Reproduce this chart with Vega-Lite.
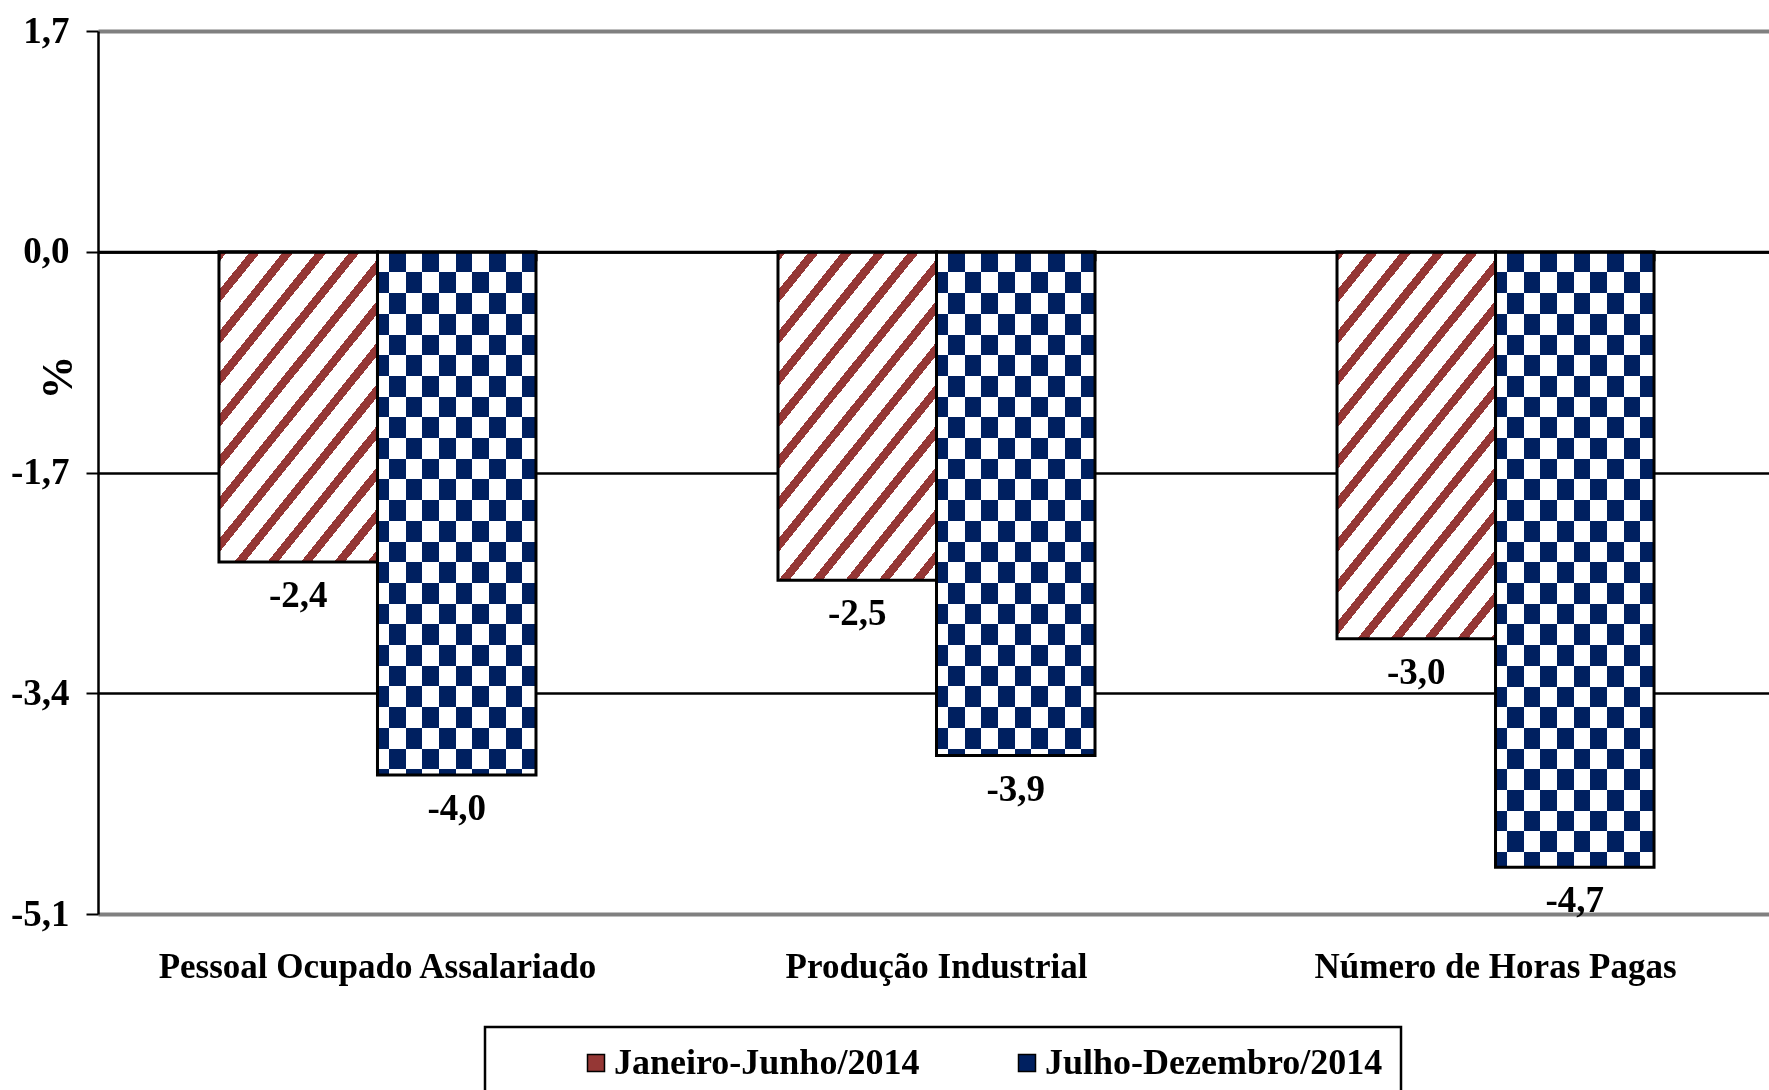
{
  "$schema": "https://vega.github.io/schema/vega-lite/v6.json",
  "autosize": {"type": "none"},
  "padding": {"left": 98, "top": 31, "right": 0, "bottom": 176},
  "width": 1671,
  "height": 883,
  "background": "white",
  "data": {"values": [
    {"cat": "Pessoal Ocupado Assalariado", "series": "Janeiro-Junho/2014", "value": -2.39},
    {"cat": "Produção Industrial", "series": "Janeiro-Junho/2014", "value": -2.53},
    {"cat": "Número de Horas Pagas", "series": "Janeiro-Junho/2014", "value": -2.98},
    {"cat": "Pessoal Ocupado Assalariado", "series": "Julho-Dezembro/2014", "value": -4.03},
    {"cat": "Produção Industrial", "series": "Julho-Dezembro/2014", "value": -3.88},
    {"cat": "Número de Horas Pagas", "series": "Julho-Dezembro/2014", "value": -4.74}
  ]},
  "encoding": {
    "x": {"field": "cat", "type": "nominal", "scale": {"domain": ["Pessoal Ocupado Assalariado", "Produção Industrial", "Número de Horas Pagas"], "range": [0, 1677], "paddingInner": 0.4329, "paddingOuter": 0.2164}, "axis": null},
    "xOffset": {"field": "series", "type": "nominal", "scale": {"domain": ["Janeiro-Junho/2014", "Julho-Dezembro/2014"], "paddingInner": 0, "paddingOuter": 0}},
    "y": {"field": "value", "type": "quantitative", "scale": {"domain": [-5.1, 1.7], "nice": false, "zero": false},
      "axis": {"title": "%", "titleX": -40, "titleY": 346, "titleBaseline": "middle", "titleFont": "Liberation Serif", "titleFontSize": 44, "titleFontWeight": "bold", "titleColor": "black",
        "values": [-5.1, -3.4, -1.7, 0, 1.7], "format": ".1f", "labelFont": "Liberation Serif", "labelFontWeight": "bold", "labelFontSize": 37, "labelColor": "black", "labelPadding": 17,
        "tickSize": 12, "tickColor": "black", "tickWidth": 2, "domainColor": "black", "domainWidth": 2.5, "grid": true,
        "gridColor": {"condition": {"test": "datum.value > 1 || datum.value < -5", "value": "#808080"}, "value": "black"},
        "gridWidth": {"condition": {"test": "datum.value > 1 || datum.value < -5", "value": 4}, "value": 2.5}}}
  },
  "resolve": {"axis": {"x": "independent"}},
  "layer": [
    {
      "mark": {"type": "bar"},
      "encoding": {
        "x": {"field": "cat", "type": "nominal", "scale": {"domain": ["Pessoal Ocupado Assalariado", "Produção Industrial", "Número de Horas Pagas"], "range": [0, 1677], "paddingInner": 0.4329, "paddingOuter": 0.2164},
          "axis": {"orient": "bottom", "title": null, "domain": false, "ticks": false, "tickSize": 0, "labelPadding": 35, "labelFont": "Liberation Serif", "labelFontWeight": "bold", "labelFontSize": 35, "labelColor": "black", "labelAngle": 0, "labelLimit": 800, "grid": false}},
        "color": {"field": "series", "type": "nominal", "scale": {"domain": ["Janeiro-Junho/2014", "Julho-Dezembro/2014"], "range": ["#953735", "#002060"]},
          "legend": {"orient": "none", "legendX": 387, "legendY": 996, "direction": "horizontal", "title": null, "strokeColor": "black", "padding": 18,
            "symbolType": "square", "symbolSize": 289, "symbolStrokeColor": "black", "symbolStrokeWidth": 1.5, "symbolOffset": 75, "columnPadding": 14,
            "labelExpr": "datum.value === 'Julho-Dezembro/2014' ? datum.label + '\u00a0\u00a0\u00a0\u00a0\u00a0\u00a0\u00a0\u00a0\u00a0' : datum.label",
            "labelFont": "Liberation Serif", "labelFontWeight": "bold", "labelFontSize": 36, "labelColor": "black", "labelLimit": 800, "labelOffset": 0}}
      }
    },
    {
      "transform": [{"filter": "datum.series === 'Janeiro-Junho/2014' && datum.cat === 'Pessoal Ocupado Assalariado'"}],
      "mark": {"type": "bar", "fill": {"gradient": "linear", "x1": 0, "y1": 0, "x2": 0.7414, "y2": 1.1645, "stops": [
        {"offset": 0, "color": "#953735"}, {"offset": 0.0204, "color": "#953735"}, {"offset": 0.0204, "color": "#ffffff"}, {"offset": 0.0760, "color": "#ffffff"},
        {"offset": 0.0760, "color": "#953735"}, {"offset": 0.1021, "color": "#953735"}, {"offset": 0.1021, "color": "#ffffff"}, {"offset": 0.1577, "color": "#ffffff"},
        {"offset": 0.1577, "color": "#953735"}, {"offset": 0.1839, "color": "#953735"}, {"offset": 0.1839, "color": "#ffffff"}, {"offset": 0.2394, "color": "#ffffff"},
        {"offset": 0.2394, "color": "#953735"}, {"offset": 0.2656, "color": "#953735"}, {"offset": 0.2656, "color": "#ffffff"}, {"offset": 0.3212, "color": "#ffffff"},
        {"offset": 0.3212, "color": "#953735"}, {"offset": 0.3473, "color": "#953735"}, {"offset": 0.3473, "color": "#ffffff"}, {"offset": 0.4029, "color": "#ffffff"},
        {"offset": 0.4029, "color": "#953735"}, {"offset": 0.4290, "color": "#953735"}, {"offset": 0.4290, "color": "#ffffff"}, {"offset": 0.4846, "color": "#ffffff"},
        {"offset": 0.4846, "color": "#953735"}, {"offset": 0.5108, "color": "#953735"}, {"offset": 0.5108, "color": "#ffffff"}, {"offset": 0.5663, "color": "#ffffff"},
        {"offset": 0.5663, "color": "#953735"}, {"offset": 0.5925, "color": "#953735"}, {"offset": 0.5925, "color": "#ffffff"}, {"offset": 0.6480, "color": "#ffffff"},
        {"offset": 0.6480, "color": "#953735"}, {"offset": 0.6742, "color": "#953735"}, {"offset": 0.6742, "color": "#ffffff"}, {"offset": 0.7298, "color": "#ffffff"},
        {"offset": 0.7298, "color": "#953735"}, {"offset": 0.7559, "color": "#953735"}, {"offset": 0.7559, "color": "#ffffff"}, {"offset": 0.8115, "color": "#ffffff"},
        {"offset": 0.8115, "color": "#953735"}, {"offset": 0.8376, "color": "#953735"}, {"offset": 0.8376, "color": "#ffffff"}, {"offset": 0.8932, "color": "#ffffff"},
        {"offset": 0.8932, "color": "#953735"}, {"offset": 0.9194, "color": "#953735"}, {"offset": 0.9194, "color": "#ffffff"}, {"offset": 0.9749, "color": "#ffffff"},
        {"offset": 0.9749, "color": "#953735"}, {"offset": 1, "color": "#953735"}]}}
    },
    {
      "transform": [{"filter": "datum.series === 'Janeiro-Junho/2014' && datum.cat === 'Produção Industrial'"}],
      "mark": {"type": "bar", "fill": {"gradient": "linear", "x1": 0, "y1": 0, "x2": 0.7072, "y2": 1.1761, "stops": [
        {"offset": 0, "color": "#953735"}, {"offset": 0.0197, "color": "#953735"}, {"offset": 0.0197, "color": "#ffffff"}, {"offset": 0.0734, "color": "#ffffff"},
        {"offset": 0.0734, "color": "#953735"}, {"offset": 0.0986, "color": "#953735"}, {"offset": 0.0986, "color": "#ffffff"}, {"offset": 0.1523, "color": "#ffffff"},
        {"offset": 0.1523, "color": "#953735"}, {"offset": 0.1775, "color": "#953735"}, {"offset": 0.1775, "color": "#ffffff"}, {"offset": 0.2311, "color": "#ffffff"},
        {"offset": 0.2311, "color": "#953735"}, {"offset": 0.2564, "color": "#953735"}, {"offset": 0.2564, "color": "#ffffff"}, {"offset": 0.3100, "color": "#ffffff"},
        {"offset": 0.3100, "color": "#953735"}, {"offset": 0.3353, "color": "#953735"}, {"offset": 0.3353, "color": "#ffffff"}, {"offset": 0.3889, "color": "#ffffff"},
        {"offset": 0.3889, "color": "#953735"}, {"offset": 0.4142, "color": "#953735"}, {"offset": 0.4142, "color": "#ffffff"}, {"offset": 0.4678, "color": "#ffffff"},
        {"offset": 0.4678, "color": "#953735"}, {"offset": 0.4931, "color": "#953735"}, {"offset": 0.4931, "color": "#ffffff"}, {"offset": 0.5467, "color": "#ffffff"},
        {"offset": 0.5467, "color": "#953735"}, {"offset": 0.5720, "color": "#953735"}, {"offset": 0.5720, "color": "#ffffff"}, {"offset": 0.6256, "color": "#ffffff"},
        {"offset": 0.6256, "color": "#953735"}, {"offset": 0.6508, "color": "#953735"}, {"offset": 0.6508, "color": "#ffffff"}, {"offset": 0.7045, "color": "#ffffff"},
        {"offset": 0.7045, "color": "#953735"}, {"offset": 0.7297, "color": "#953735"}, {"offset": 0.7297, "color": "#ffffff"}, {"offset": 0.7834, "color": "#ffffff"},
        {"offset": 0.7834, "color": "#953735"}, {"offset": 0.8086, "color": "#953735"}, {"offset": 0.8086, "color": "#ffffff"}, {"offset": 0.8623, "color": "#ffffff"},
        {"offset": 0.8623, "color": "#953735"}, {"offset": 0.8875, "color": "#953735"}, {"offset": 0.8875, "color": "#ffffff"}, {"offset": 0.9412, "color": "#ffffff"},
        {"offset": 0.9412, "color": "#953735"}, {"offset": 0.9664, "color": "#953735"}, {"offset": 0.9664, "color": "#ffffff"}, {"offset": 1, "color": "#ffffff"}]}}
    },
    {
      "transform": [{"filter": "datum.series === 'Janeiro-Junho/2014' && datum.cat === 'Número de Horas Pagas'"}],
      "mark": {"type": "bar", "fill": {"gradient": "linear", "x1": 0, "y1": 0, "x2": 0.6117, "y2": 1.1983, "stops": [
        {"offset": 0, "color": "#953735"}, {"offset": 0.0178, "color": "#953735"}, {"offset": 0.0178, "color": "#ffffff"}, {"offset": 0.0660, "color": "#ffffff"},
        {"offset": 0.0660, "color": "#953735"}, {"offset": 0.0888, "color": "#953735"}, {"offset": 0.0888, "color": "#ffffff"}, {"offset": 0.1370, "color": "#ffffff"},
        {"offset": 0.1370, "color": "#953735"}, {"offset": 0.1598, "color": "#953735"}, {"offset": 0.1598, "color": "#ffffff"}, {"offset": 0.2080, "color": "#ffffff"},
        {"offset": 0.2080, "color": "#953735"}, {"offset": 0.2308, "color": "#953735"}, {"offset": 0.2308, "color": "#ffffff"}, {"offset": 0.2790, "color": "#ffffff"},
        {"offset": 0.2790, "color": "#953735"}, {"offset": 0.3018, "color": "#953735"}, {"offset": 0.3018, "color": "#ffffff"}, {"offset": 0.3500, "color": "#ffffff"},
        {"offset": 0.3500, "color": "#953735"}, {"offset": 0.3728, "color": "#953735"}, {"offset": 0.3728, "color": "#ffffff"}, {"offset": 0.4210, "color": "#ffffff"},
        {"offset": 0.4210, "color": "#953735"}, {"offset": 0.4438, "color": "#953735"}, {"offset": 0.4438, "color": "#ffffff"}, {"offset": 0.4920, "color": "#ffffff"},
        {"offset": 0.4920, "color": "#953735"}, {"offset": 0.5148, "color": "#953735"}, {"offset": 0.5148, "color": "#ffffff"}, {"offset": 0.5630, "color": "#ffffff"},
        {"offset": 0.5630, "color": "#953735"}, {"offset": 0.5858, "color": "#953735"}, {"offset": 0.5858, "color": "#ffffff"}, {"offset": 0.6340, "color": "#ffffff"},
        {"offset": 0.6340, "color": "#953735"}, {"offset": 0.6568, "color": "#953735"}, {"offset": 0.6568, "color": "#ffffff"}, {"offset": 0.7050, "color": "#ffffff"},
        {"offset": 0.7050, "color": "#953735"}, {"offset": 0.7278, "color": "#953735"}, {"offset": 0.7278, "color": "#ffffff"}, {"offset": 0.7760, "color": "#ffffff"},
        {"offset": 0.7760, "color": "#953735"}, {"offset": 0.7988, "color": "#953735"}, {"offset": 0.7988, "color": "#ffffff"}, {"offset": 0.8470, "color": "#ffffff"},
        {"offset": 0.8470, "color": "#953735"}, {"offset": 0.8698, "color": "#953735"}, {"offset": 0.8698, "color": "#ffffff"}, {"offset": 0.9180, "color": "#ffffff"},
        {"offset": 0.9180, "color": "#953735"}, {"offset": 0.9408, "color": "#953735"}, {"offset": 0.9408, "color": "#ffffff"}, {"offset": 0.9890, "color": "#ffffff"},
        {"offset": 0.9890, "color": "#953735"}, {"offset": 1, "color": "#953735"}]}}
    },
    {
      "transform": [{"filter": "datum.series === 'Julho-Dezembro/2014'"}],
      "mark": {"type": "bar", "fill": {"gradient": "linear", "x1": 0, "y1": 0, "x2": 1, "y2": 0, "stops": [
        {"offset": 0, "color": "#ffffff"}, {"offset": 0.0732, "color": "#ffffff"}, {"offset": 0.0732, "color": "#000000"}, {"offset": 0.1784, "color": "#000000"},
        {"offset": 0.1784, "color": "#ffffff"}, {"offset": 0.2835, "color": "#ffffff"}, {"offset": 0.2835, "color": "#000000"}, {"offset": 0.3887, "color": "#000000"},
        {"offset": 0.3887, "color": "#ffffff"}, {"offset": 0.4939, "color": "#ffffff"}, {"offset": 0.4939, "color": "#000000"}, {"offset": 0.5991, "color": "#000000"},
        {"offset": 0.5991, "color": "#ffffff"}, {"offset": 0.7042, "color": "#ffffff"}, {"offset": 0.7042, "color": "#000000"}, {"offset": 0.8094, "color": "#000000"},
        {"offset": 0.8094, "color": "#ffffff"}, {"offset": 0.9146, "color": "#ffffff"}, {"offset": 0.9146, "color": "#000000"}, {"offset": 1, "color": "#000000"}]}}
    },
    {
      "transform": [{"filter": "datum.series === 'Julho-Dezembro/2014' && datum.cat === 'Pessoal Ocupado Assalariado'"}],
      "mark": {"type": "bar", "blend": "difference", "fill": {"gradient": "linear", "x1": 0, "y1": 0, "x2": 0, "y2": 1, "stops": [
        {"offset": 0, "color": "#000000"}, {"offset": 0.0396, "color": "#000000"}, {"offset": 0.0396, "color": "#ffffff"}, {"offset": 0.0791, "color": "#ffffff"},
        {"offset": 0.0791, "color": "#000000"}, {"offset": 0.1187, "color": "#000000"}, {"offset": 0.1187, "color": "#ffffff"}, {"offset": 0.1582, "color": "#ffffff"},
        {"offset": 0.1582, "color": "#000000"}, {"offset": 0.1978, "color": "#000000"}, {"offset": 0.1978, "color": "#ffffff"}, {"offset": 0.2373, "color": "#ffffff"},
        {"offset": 0.2373, "color": "#000000"}, {"offset": 0.2769, "color": "#000000"}, {"offset": 0.2769, "color": "#ffffff"}, {"offset": 0.3165, "color": "#ffffff"},
        {"offset": 0.3165, "color": "#000000"}, {"offset": 0.3560, "color": "#000000"}, {"offset": 0.3560, "color": "#ffffff"}, {"offset": 0.3956, "color": "#ffffff"},
        {"offset": 0.3956, "color": "#000000"}, {"offset": 0.4351, "color": "#000000"}, {"offset": 0.4351, "color": "#ffffff"}, {"offset": 0.4747, "color": "#ffffff"},
        {"offset": 0.4747, "color": "#000000"}, {"offset": 0.5142, "color": "#000000"}, {"offset": 0.5142, "color": "#ffffff"}, {"offset": 0.5538, "color": "#ffffff"},
        {"offset": 0.5538, "color": "#000000"}, {"offset": 0.5934, "color": "#000000"}, {"offset": 0.5934, "color": "#ffffff"}, {"offset": 0.6329, "color": "#ffffff"},
        {"offset": 0.6329, "color": "#000000"}, {"offset": 0.6725, "color": "#000000"}, {"offset": 0.6725, "color": "#ffffff"}, {"offset": 0.7120, "color": "#ffffff"},
        {"offset": 0.7120, "color": "#000000"}, {"offset": 0.7516, "color": "#000000"}, {"offset": 0.7516, "color": "#ffffff"}, {"offset": 0.7911, "color": "#ffffff"},
        {"offset": 0.7911, "color": "#000000"}, {"offset": 0.8307, "color": "#000000"}, {"offset": 0.8307, "color": "#ffffff"}, {"offset": 0.8703, "color": "#ffffff"},
        {"offset": 0.8703, "color": "#000000"}, {"offset": 0.9098, "color": "#000000"}, {"offset": 0.9098, "color": "#ffffff"}, {"offset": 0.9494, "color": "#ffffff"},
        {"offset": 0.9494, "color": "#000000"}, {"offset": 0.9889, "color": "#000000"}, {"offset": 0.9889, "color": "#ffffff"}, {"offset": 1, "color": "#ffffff"}]}}
    },
    {
      "transform": [{"filter": "datum.series === 'Julho-Dezembro/2014' && datum.cat === 'Produção Industrial'"}],
      "mark": {"type": "bar", "blend": "difference", "fill": {"gradient": "linear", "x1": 0, "y1": 0, "x2": 0, "y2": 1, "stops": [
        {"offset": 0, "color": "#000000"}, {"offset": 0.0411, "color": "#000000"}, {"offset": 0.0411, "color": "#ffffff"}, {"offset": 0.0822, "color": "#ffffff"},
        {"offset": 0.0822, "color": "#000000"}, {"offset": 0.1233, "color": "#000000"}, {"offset": 0.1233, "color": "#ffffff"}, {"offset": 0.1643, "color": "#ffffff"},
        {"offset": 0.1643, "color": "#000000"}, {"offset": 0.2054, "color": "#000000"}, {"offset": 0.2054, "color": "#ffffff"}, {"offset": 0.2465, "color": "#ffffff"},
        {"offset": 0.2465, "color": "#000000"}, {"offset": 0.2876, "color": "#000000"}, {"offset": 0.2876, "color": "#ffffff"}, {"offset": 0.3287, "color": "#ffffff"},
        {"offset": 0.3287, "color": "#000000"}, {"offset": 0.3698, "color": "#000000"}, {"offset": 0.3698, "color": "#ffffff"}, {"offset": 0.4108, "color": "#ffffff"},
        {"offset": 0.4108, "color": "#000000"}, {"offset": 0.4519, "color": "#000000"}, {"offset": 0.4519, "color": "#ffffff"}, {"offset": 0.4930, "color": "#ffffff"},
        {"offset": 0.4930, "color": "#000000"}, {"offset": 0.5341, "color": "#000000"}, {"offset": 0.5341, "color": "#ffffff"}, {"offset": 0.5752, "color": "#ffffff"},
        {"offset": 0.5752, "color": "#000000"}, {"offset": 0.6163, "color": "#000000"}, {"offset": 0.6163, "color": "#ffffff"}, {"offset": 0.6574, "color": "#ffffff"},
        {"offset": 0.6574, "color": "#000000"}, {"offset": 0.6984, "color": "#000000"}, {"offset": 0.6984, "color": "#ffffff"}, {"offset": 0.7395, "color": "#ffffff"},
        {"offset": 0.7395, "color": "#000000"}, {"offset": 0.7806, "color": "#000000"}, {"offset": 0.7806, "color": "#ffffff"}, {"offset": 0.8217, "color": "#ffffff"},
        {"offset": 0.8217, "color": "#000000"}, {"offset": 0.8628, "color": "#000000"}, {"offset": 0.8628, "color": "#ffffff"}, {"offset": 0.9039, "color": "#ffffff"},
        {"offset": 0.9039, "color": "#000000"}, {"offset": 0.9449, "color": "#000000"}, {"offset": 0.9449, "color": "#ffffff"}, {"offset": 0.9860, "color": "#ffffff"},
        {"offset": 0.9860, "color": "#000000"}, {"offset": 1, "color": "#000000"}]}}
    },
    {
      "transform": [{"filter": "datum.series === 'Julho-Dezembro/2014' && datum.cat === 'Número de Horas Pagas'"}],
      "mark": {"type": "bar", "blend": "difference", "fill": {"gradient": "linear", "x1": 0, "y1": 0, "x2": 0, "y2": 1, "stops": [
        {"offset": 0, "color": "#000000"}, {"offset": 0.0336, "color": "#000000"}, {"offset": 0.0336, "color": "#ffffff"}, {"offset": 0.0673, "color": "#ffffff"},
        {"offset": 0.0673, "color": "#000000"}, {"offset": 0.1009, "color": "#000000"}, {"offset": 0.1009, "color": "#ffffff"}, {"offset": 0.1345, "color": "#ffffff"},
        {"offset": 0.1345, "color": "#000000"}, {"offset": 0.1682, "color": "#000000"}, {"offset": 0.1682, "color": "#ffffff"}, {"offset": 0.2018, "color": "#ffffff"},
        {"offset": 0.2018, "color": "#000000"}, {"offset": 0.2355, "color": "#000000"}, {"offset": 0.2355, "color": "#ffffff"}, {"offset": 0.2691, "color": "#ffffff"},
        {"offset": 0.2691, "color": "#000000"}, {"offset": 0.3027, "color": "#000000"}, {"offset": 0.3027, "color": "#ffffff"}, {"offset": 0.3364, "color": "#ffffff"},
        {"offset": 0.3364, "color": "#000000"}, {"offset": 0.3700, "color": "#000000"}, {"offset": 0.3700, "color": "#ffffff"}, {"offset": 0.4036, "color": "#ffffff"},
        {"offset": 0.4036, "color": "#000000"}, {"offset": 0.4373, "color": "#000000"}, {"offset": 0.4373, "color": "#ffffff"}, {"offset": 0.4709, "color": "#ffffff"},
        {"offset": 0.4709, "color": "#000000"}, {"offset": 0.5045, "color": "#000000"}, {"offset": 0.5045, "color": "#ffffff"}, {"offset": 0.5382, "color": "#ffffff"},
        {"offset": 0.5382, "color": "#000000"}, {"offset": 0.5718, "color": "#000000"}, {"offset": 0.5718, "color": "#ffffff"}, {"offset": 0.6054, "color": "#ffffff"},
        {"offset": 0.6054, "color": "#000000"}, {"offset": 0.6391, "color": "#000000"}, {"offset": 0.6391, "color": "#ffffff"}, {"offset": 0.6727, "color": "#ffffff"},
        {"offset": 0.6727, "color": "#000000"}, {"offset": 0.7064, "color": "#000000"}, {"offset": 0.7064, "color": "#ffffff"}, {"offset": 0.7400, "color": "#ffffff"},
        {"offset": 0.7400, "color": "#000000"}, {"offset": 0.7736, "color": "#000000"}, {"offset": 0.7736, "color": "#ffffff"}, {"offset": 0.8073, "color": "#ffffff"},
        {"offset": 0.8073, "color": "#000000"}, {"offset": 0.8409, "color": "#000000"}, {"offset": 0.8409, "color": "#ffffff"}, {"offset": 0.8745, "color": "#ffffff"},
        {"offset": 0.8745, "color": "#000000"}, {"offset": 0.9082, "color": "#000000"}, {"offset": 0.9082, "color": "#ffffff"}, {"offset": 0.9418, "color": "#ffffff"},
        {"offset": 0.9418, "color": "#000000"}, {"offset": 0.9754, "color": "#000000"}, {"offset": 0.9754, "color": "#ffffff"}, {"offset": 1, "color": "#ffffff"}]}}
    },
    {
      "transform": [{"filter": "datum.series === 'Julho-Dezembro/2014'"}],
      "mark": {"type": "bar", "blend": "lighten", "fill": "#002060"}
    },
    {
      "mark": {"type": "bar", "fill": "transparent", "stroke": "black", "strokeWidth": 3}
    },
    {
      "mark": {"type": "text", "dy": 34, "baseline": "middle", "align": "center", "font": "Liberation Serif", "fontWeight": "bold", "fontSize": 37, "color": "black"},
      "encoding": {
        "x": {"field": "cat", "type": "nominal", "scale": {"domain": ["Pessoal Ocupado Assalariado", "Produção Industrial", "Número de Horas Pagas"], "range": [0, 1677], "paddingInner": 0.4329, "paddingOuter": 0.2164},
          "axis": {"orient": "bottom", "offset": -662.25, "title": null, "labels": false, "domain": true, "domainColor": "black", "domainWidth": 3, "ticks": true, "tickBand": "extent", "tickSize": 9, "tickColor": "black", "tickWidth": 2, "grid": false, "zindex": 1}},
        "text": {"field": "value", "type": "quantitative", "format": ".1f"}
      }
    }
  ],
  "config": {
    "view": {"stroke": null},
    "locale": {"number": {"decimal": ",", "thousands": ".", "grouping": [3], "currency": ["R$", ""], "minus": "-"}},
    "legend": {"strokeWidth": 2.5}
  }
}
